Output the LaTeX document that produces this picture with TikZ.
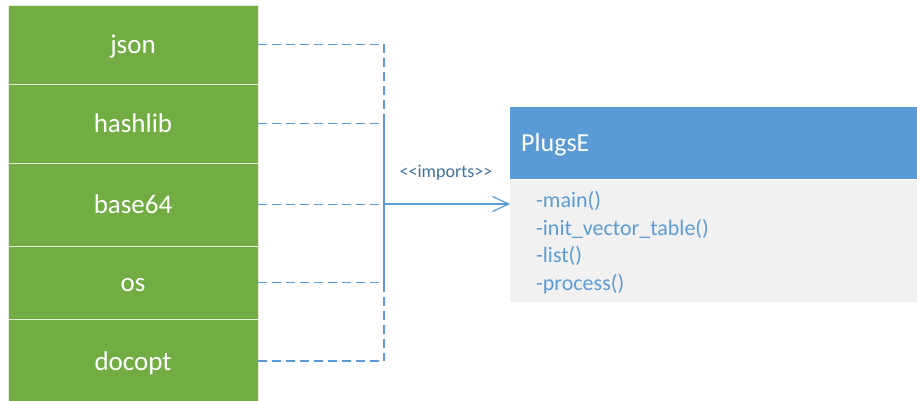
\documentclass[tikz,border=0pt]{standalone}
\usepackage{fontspec}
\setmainfont{Carlito}
\usetikzlibrary{arrows.meta}
\definecolor{modgreen}{HTML}{72AD44}
\definecolor{classblue}{HTML}{5B9BD5}
\definecolor{classgray}{HTML}{F1F1F1}
\definecolor{labelblue}{HTML}{41719C}
\begin{document}
\begin{tikzpicture}[x=1pt,y=-1pt,
  modbox/.style={draw=white!80!modgreen, line width=0.9pt, fill=modgreen, text=white,
    minimum width=250pt, inner sep=0pt, font=\fontsize{27}{32}\selectfont,
    text height=18.7pt, text depth=0pt},
  dep/.style={draw=classblue, line width=1.2pt, dash pattern=on 9pt off 5pt},
  link/.style={draw=classblue, line width=1.2pt},
  headbox/.style={fill=classblue, text=white, anchor=north west,
    minimum width=407pt, minimum height=72pt, inner xsep=11pt, inner ysep=0pt,
    text width=385pt, align=left, font=\fontsize{26}{31}\selectfont,
    text height=16.7pt, text depth=0pt},
  bodybox/.style={fill=classgray, text=classblue, anchor=north west,
    minimum width=407pt, minimum height=122pt, inner xsep=26pt, inner ysep=0pt,
    text width=355pt, align=left, font=\fontsize{22}{27.7}\selectfont}]
\useasboundingbox[fill=white] (0,0) rectangle (917,401);

% imported modules, stacked edge to edge
\node[modbox, minimum height=79pt] (json)    at (133,44.5)  {json};
\node[modbox, minimum height=79pt] (hashlib) at (133,123.5) {hashlib};
\node[modbox, minimum height=83pt] (base64)  at (133,204.5) {base64};
\node[modbox, minimum height=73pt] (os)      at (133,282.5) {os};
\node[modbox, minimum height=84pt] (docopt)  at (133,361)   {docopt};

% class box
\node[headbox] (plugs) at (510,107) {PlugsE};
\node[bodybox] (body) at (plugs.south west)
  {\rule{0pt}{20.5pt}-main()\\-init\_vector\_table()\\-list()\\-process()};

% import bus
\coordinate (hub) at (384,204);
\coordinate (trunktop) at (384,115);
\coordinate (trunkbot) at (384,292);
\foreach \m in {json,hashlib,base64,os,docopt}
  \draw[dep] (\m.east) -- (\m.east -| hub);
\draw[dep] (json.east -| hub) -- (docopt.east -| hub);
\draw[link] (trunktop) -- (trunkbot);
\draw[link, -{Straight Barb[length=16pt,width=15pt,line width=1.2pt]}]
  (hub) -- (hub -| body.west);
\node[font=\fontsize{18}{22}\selectfont, text=labelblue] (lbl) at (446,173)
  {{<}{<}imports{>}{>}};
\end{tikzpicture}
\end{document}
